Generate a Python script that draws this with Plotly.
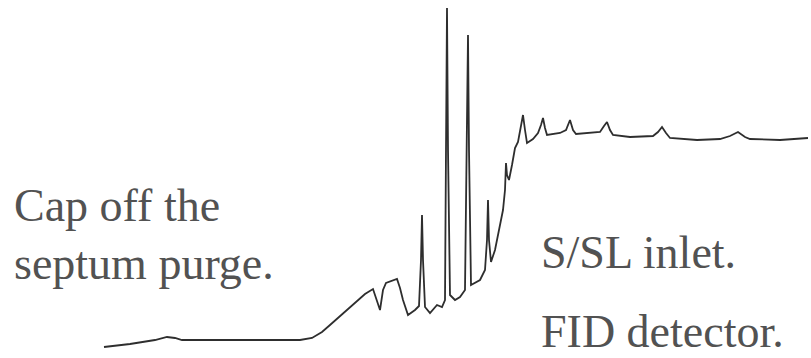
import plotly.graph_objects as go

# Chromatogram trace: retention axis position and detector response
retention = [104, 130, 155, 167, 175, 182, 200, 250, 300, 312, 322, 330, 340, 350, 365, 373, 377, 380,
             383, 386, 397, 400, 403, 408, 415, 419, 421, 422, 423, 425, 430, 437, 442, 445,
             446, 447, 448, 450, 455, 460, 465, 467, 468, 469, 471, 480, 485, 487, 488, 489,
             491, 495, 498, 503, 505, 506, 507, 509, 512, 515, 518, 521, 523, 525, 527, 533,
             538, 541, 543, 545, 547, 560, 566, 570, 573, 576, 590, 600, 604, 607, 610, 613,
             630, 653, 658, 662, 666, 670, 697, 720, 730, 738, 745, 750, 780, 808]
response = [11, 14, 18, 21, 20, 18, 18, 18, 18, 20, 26, 33, 42, 50, 64, 69, 58, 48,
            68, 75, 79, 70, 58, 43, 48, 52, 98, 143, 98, 51, 45, 53, 51, 58,
            208, 350, 208, 63, 58, 61, 68, 208, 323, 208, 73, 78, 88, 118, 158, 118,
            96, 108, 123, 148, 168, 195, 183, 178, 193, 210, 216, 233, 243, 228, 215, 219,
            225, 233, 240, 230, 223, 225, 228, 238, 228, 224, 225, 226, 232, 236, 228, 223,
            221, 222, 226, 231, 225, 220, 218, 219, 222, 226, 221, 219, 218, 220]

notes_left = ["Cap off the", "septum purge."]
notes_right = ["S/SL inlet.", "FID detector."]

fig = go.Figure()
fig.add_trace(go.Scatter(
    x=retention, y=response, mode="lines",
    line=dict(color="#2e2e2e", width=1.8),
    hoverinfo="skip", showlegend=False,
))

text_font = dict(family="Liberation Serif, Times New Roman, serif", size=46, color="#525252")

for txt, yb in zip(notes_left, [125, 67]):
    fig.add_annotation(x=12, y=yb, text=txt, showarrow=False, xanchor="left",
                       yanchor="bottom", font=text_font, xref="x", yref="y")
for txt, yb in zip(notes_right, [79, 0]):
    fig.add_annotation(x=539, y=yb, text=txt, showarrow=False, xanchor="left",
                       yanchor="bottom", font=text_font, xref="x", yref="y",
                       yshift=-1)

fig.update_layout(
    width=811, height=358,
    margin=dict(l=0, r=0, t=0, b=0),
    paper_bgcolor="white", plot_bgcolor="white",
    xaxis=dict(range=[0, 811], visible=False, fixedrange=True),
    yaxis=dict(range=[0, 358], visible=False, fixedrange=True),
)

fig.write_html("out.html")
